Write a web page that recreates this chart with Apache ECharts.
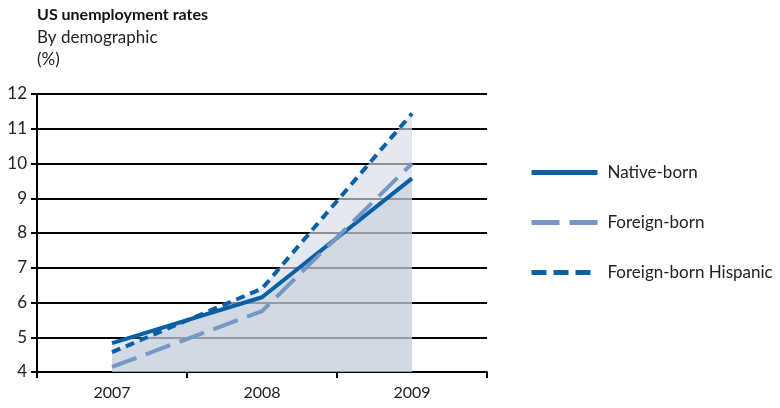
<!DOCTYPE html>
<html>
<head>
<meta charset="utf-8">
<script src="https://cdn.jsdelivr.net/npm/echarts@6/dist/echarts.min.js"></script>
<style>html,body{margin:0;padding:0;background:#fff;}#c{width:780px;height:408px;}</style>
</head>
<body>
<div id="c"></div>
<script>
var years = ['2007', '2008', '2009'];
var nativeBorn = [4.83, 6.15, 9.57];
var foreignBorn = [4.15, 5.75, 10.0];
var hispanic = [4.57, 6.4, 11.44];
var seriesNames = ['Native-born', 'Foreign-born', 'Foreign-born Hispanic'];

var FONT = 'Lato';
var C_DARK = '#0b5fa5';
var C_LIGHT = '#7896c4';
var chart = echarts.init(document.getElementById('c'));
chart.setOption({
  animation: false,
  backgroundColor: '#fff',
  title: {
    left: 32, top: 2,
    text: 'US unemployment rates',
    subtext: 'By demographic\n(%)',
    itemGap: 4,
    textStyle: { fontFamily: FONT, fontSize: 16, fontWeight: 'bold', color: '#111' },
    subtextStyle: { fontFamily: FONT, fontSize: 17, color: '#222', lineHeight: 22 }
  },
  legend: {
    orient: 'vertical',
    left: 524, top: 159,
    itemWidth: 66, itemHeight: 16,
    itemGap: 33,
    itemStyle: { opacity: 0 },
    data: [
      { name: seriesNames[0], lineStyle: { color: C_DARK, width: 5, type: 'solid' } },
      { name: seriesNames[1], lineStyle: { color: C_LIGHT, width: 5, type: [28, 10] } },
      { name: seriesNames[2], lineStyle: { color: C_DARK, width: 5, type: [15, 7] } }
    ],
    textStyle: { fontFamily: FONT, fontSize: 17, color: '#222', padding: [0, 0, 0, 5] }
  },
  grid: { left: 37, right: 293, top: 94, bottom: 36 },
  xAxis: {
    type: 'category',
    data: years,
    boundaryGap: true,
    axisLine: { lineStyle: { color: '#000', width: 2 } },
    axisTick: { show: true, length: 6, lineStyle: { color: '#000', width: 2 } },
    axisLabel: { fontFamily: FONT, fontSize: 16, color: '#222', margin: 13 }
  },
  yAxis: {
    type: 'value',
    min: 4, max: 12, interval: 1,
    axisLine: { show: true, lineStyle: { color: '#000', width: 2 } },
    axisTick: { show: true, length: 6, lineStyle: { color: '#000', width: 2 } },
    axisLabel: { fontFamily: FONT, fontSize: 17, color: '#222', margin: 10 },
    splitLine: { show: true, lineStyle: { color: '#000', width: 2 } }
  },
  series: [
    { name: 'areaH', type: 'line', data: hispanic, symbol: 'none', z: 1, silent: true,
      lineStyle: { width: 0 }, areaStyle: { color: 'rgba(214,219,232,0.65)', opacity: 1 } },
    { name: 'areaN', type: 'line', data: nativeBorn, symbol: 'none', z: 1, silent: true,
      lineStyle: { width: 0 }, areaStyle: { color: 'rgba(165,182,204,0.3)', opacity: 1 } },
    { name: seriesNames[0], type: 'line', data: nativeBorn, symbol: 'none', z: 3,
      itemStyle: { color: C_DARK },
      lineStyle: { color: C_DARK, width: 4, type: 'solid' } },
    { name: seriesNames[1], type: 'line', data: foreignBorn, symbol: 'none', z: 3,
      itemStyle: { color: C_LIGHT },
      lineStyle: { color: C_LIGHT, width: 4, type: [26, 10] } },
    { name: seriesNames[2], type: 'line', data: hispanic, symbol: 'none', z: 3,
      itemStyle: { color: C_DARK },
      lineStyle: { color: C_DARK, width: 4, type: [9, 6] } }
  ]
});
</script>
</body>
</html>
